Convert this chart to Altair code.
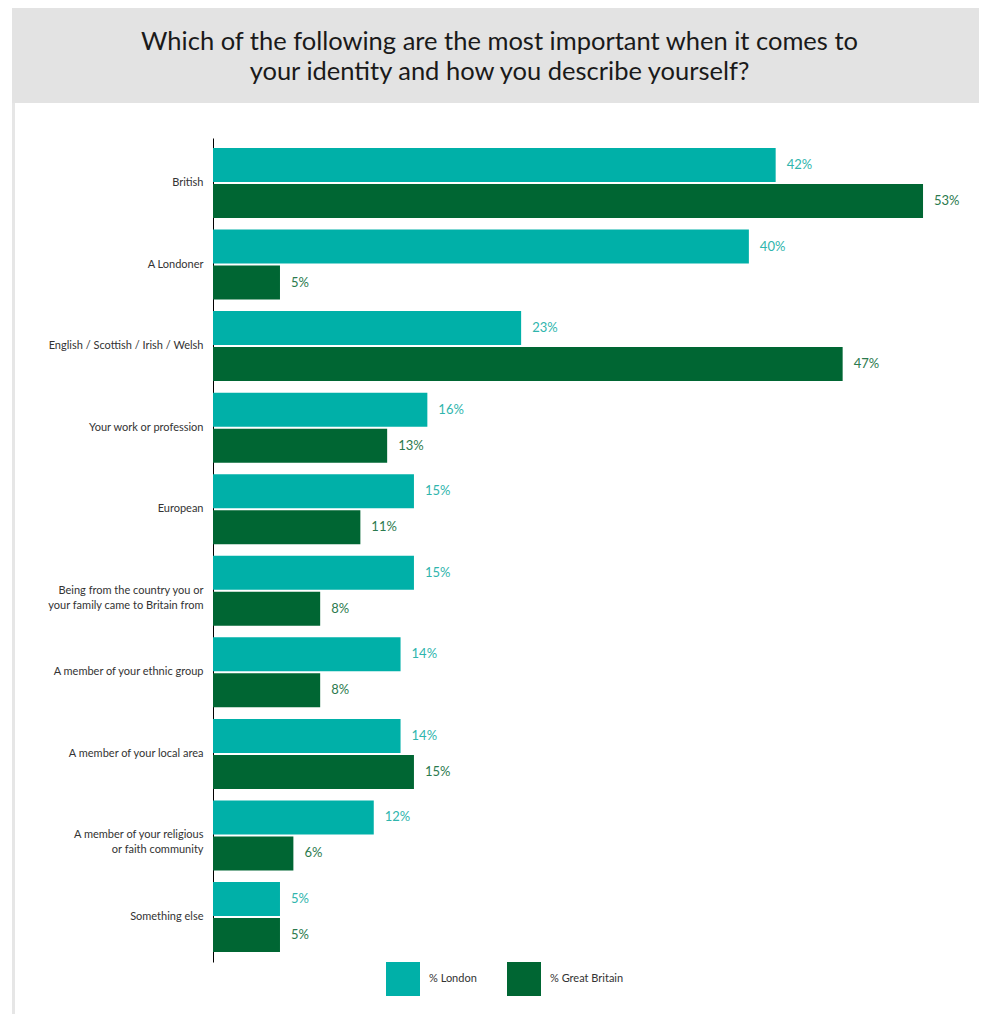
import altair as alt
import pandas as pd

categories = [
    "British",
    "A Londoner",
    "English / Scottish / Irish / Welsh",
    "Your work or profession",
    "European",
    "Being from the country you or|your family came to Britain from",
    "A member of your ethnic group",
    "A member of your local area",
    "A member of your religious|or faith community",
    "Something else",
]
london = [42, 40, 23, 16, 15, 15, 14, 14, 12, 5]
great_britain = [53, 5, 47, 13, 11, 8, 8, 15, 6, 5]
series = ["% London", "% Great Britain"]
bar_colors = ["#00B0A8", "#006633"]
label_colors = ["#2FB5AD", "#2B7A4E"]
title_text = ("Which of the following are the most important when it comes to\n"
              "your identity and how you describe yourself?")

rows = []
for c, l, g in zip(categories, london, great_britain):
    rows.append({"category": c, "series": series[0], "value": l, "label": f"{l}%"})
    rows.append({"category": c, "series": series[1], "value": g, "label": f"{g}%"})
df = pd.DataFrame(rows)

one = pd.DataFrame({"a": [0]})

bg = alt.Chart(one).mark_rect(color="#E3E3E3").encode(
    x=alt.value(-201), x2=alt.value(766), y=alt.value(-130), y2=alt.value(-35)
)
border = alt.Chart(one).mark_rect(color="#E6E6E6").encode(
    x=alt.value(-201), x2=alt.value(-198), y=alt.value(-35), y2=alt.value(876)
)
title = alt.Chart(one).mark_text(
    font="Lato", fontSize=25.5, lineBreak="\n", align="center", baseline="middle",
    lineHeight=30, color="#1a1a1a"
).encode(x=alt.value(286.5), y=alt.value(-96), text=alt.value(title_text))

y_enc = alt.Y(
    "category:N", sort=categories,
    scale=alt.Scale(paddingInner=0.1417, paddingOuter=0.122),
    axis=alt.Axis(title=None, labelExpr="split(datum.label, '|')", ticks=False,
                  domain=True, domainColor="#000000", domainWidth=1,
                  labelPadding=10, labelFont="Lato", labelFontSize=11,
                  labelColor="#333333", labelLimit=300, labelLineHeight=15, grid=False),
)
yoff = alt.YOffset("series:N", sort=series,
                   scale=alt.Scale(paddingInner=0.0556, paddingOuter=0))
x_enc = alt.X("value:Q", scale=alt.Scale(domain=[0, 56.73], nice=False), axis=None)

base = alt.Chart(df)
bars = base.mark_bar().encode(
    y=y_enc, yOffset=yoff, x=x_enc,
    color=alt.Color(
        "series:N", sort=series,
        scale=alt.Scale(domain=series, range=bar_colors),
        legend=alt.Legend(title=None, orient="none", legendX=173, legendY=824,
                          direction="horizontal", symbolType="square",
                          symbolSize=1156, symbolStrokeWidth=0, symbolOpacity=1,
                          labelFont="Lato", labelFontSize=11, labelColor="#333333",
                          labelOffset=9, columnPadding=30, gridAlign="each"),
    ),
)
texts = base.mark_text(align="left", baseline="middle", dx=11, font="Lato",
                       fontSize=13).encode(
    y=y_enc, yOffset=yoff, x=x_enc, text="label:N",
    color=alt.condition(alt.datum.series == series[0],
                        alt.value(label_colors[0]), alt.value(label_colors[1])),
)

chart = alt.layer(bg, border, title, bars, texts).properties(
    width=760, height=824,
    padding={"left": 205, "top": 130, "right": 6, "bottom": 52},
    autosize=alt.AutoSizeParams(type="none"),
).configure_view(stroke=None)

chart.save("out.html", embed_options={"renderer": "svg", "actions": False})
